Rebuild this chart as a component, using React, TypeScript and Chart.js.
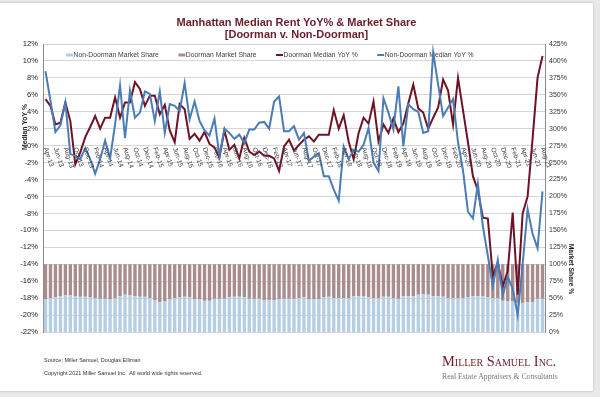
import React, { useEffect, useRef } from "react";
import { Chart, registerables } from "chart.js";

Chart.register(...registerables);

const categories = [
  "Apr-13", "May-13", "Jun-13", "Jul-13", "Aug-13", "Sep-13", "Oct-13", "Nov-13", "Dec-13",
  "Jan-14", "Feb-14", "Mar-14", "Apr-14", "May-14", "Jun-14", "Jul-14", "Aug-14", "Sep-14", "Oct-14", "Nov-14", "Dec-14",
  "Jan-15", "Feb-15", "Mar-15", "Apr-15", "May-15", "Jun-15", "Jul-15", "Aug-15", "Sep-15", "Oct-15", "Nov-15", "Dec-15",
  "Jan-16", "Feb-16", "Mar-16", "Apr-16", "May-16", "Jun-16", "Jul-16", "Aug-16", "Sep-16", "Oct-16", "Nov-16", "Dec-16",
  "Jan-17", "Feb-17", "Mar-17", "Apr-17", "May-17", "Jun-17", "Jul-17", "Aug-17", "Sep-17", "Oct-17", "Nov-17", "Dec-17",
  "Jan-18", "Feb-18", "Mar-18", "Apr-18", "May-18", "Jun-18", "Jul-18", "Aug-18", "Sep-18", "Oct-18", "Nov-18", "Dec-18",
  "Jan-19", "Feb-19", "Mar-19", "Apr-19", "May-19", "Jun-19", "Jul-19", "Aug-19", "Sep-19", "Oct-19", "Nov-19", "Dec-19",
  "Jan-20", "Feb-20", "Mar-20", "Apr-20", "May-20", "Jun-20", "Jul-20", "Aug-20", "Sep-20", "Oct-20", "Nov-20", "Dec-20",
  "Jan-21", "Feb-21", "Mar-21", "Apr-21", "May-21", "Jun-21", "Jul-21", "Aug-21",
];

const doormanYoY = [
  5.5, 4.7, 2.5, 2.7, 5.1, 2.9, -2.2, -0.8, 1.0, 2.2,
  3.5, 2.0, 3.3, 3.3, 5.7, 3.3, 5.1, 5.1, 7.5, 6.7,
  4.7, 5.9, 5.9, 3.7, 4.8, 1.8, 0.4, 4.9, 4.3, 0.8,
  1.4, 0.6, 1.6, 0.2, -0.2, -1.4, 1.8, -0.5, 0.1, -1.5,
  0.9, -0.7, -1.1, -0.7, -1.2, -1.2, -1.5, -3.0, -0.1, 0.7,
  -0.6, 0.1, 0.7, 1.1, 0.5, 1.3, 1.3, 1.3, 4.2, 2.0,
  3.6, 0.5, -1.6, 1.5, 3.3, 2.6, 5.2, 0.5, 2.5, 1.5,
  3.2, 1.6, 2.6, 5.0, 7.2, 4.4, 3.9, 2.0, 3.3, 4.5,
  7.8, 6.5, 2.5, 8.0, 4.2, 0.4, -3.6, -5.3, -8.5, -8.6,
  -15.4, -13.8, -16.6, -14.8, -7.9, -17.6, -8.0, -6.0, 0.8, 8.0,
  10.6,
];

const nonDoormanYoY = [
  8.8, 5.3, 1.6, 2.4, 5.1, -1.0, -1.2, -1.6, -0.3, -1.6,
  -3.3, -1.6, 0.6, -1.5, 2.5, 7.1, 0.9, 6.5, 3.3, 3.9,
  6.4, 6.1, 2.9, 6.4, 1.5, 4.9, 4.7, 4.1, 7.4, 3.1,
  5.2, 2.9, 1.8, 1.2, 3.2, -1.2, 2.0, 1.5, 0.8, 1.3,
  0.3, 1.9, 1.9, 2.7, 2.8, 2.0, 5.2, 5.8, 1.7, 1.7,
  2.3, 0.7, 1.5, -1.8, -1.3, -0.9, -3.6, -3.6, -5.2, -6.5,
  -0.1, -1.6, -0.5, -0.7, 0.1, 2.1, -2.0, -3.0, 5.6, 3.9,
  1.9, 7.0, -0.1, 4.9, 4.3, 4.0, 1.5, 1.7, 11.0, 7.2,
  3.5, 4.5, 5.5, 0.4, -2.9, -7.8, -8.6, -4.5, -9.5, -13.0,
  -16.6, -13.5, -17.7, -15.5, -16.9, -20.0, -14.0, -7.5, -10.4, -12.1,
  -5.4,
];

const nonDoormanShare = [
  48, 50, 51, 53, 54, 54, 53, 52, 52, 51,
  50, 49, 49, 48, 50, 53, 55, 54, 53, 52,
  52, 50, 47, 44, 45, 48, 50, 51, 52, 51,
  48, 48, 46, 46, 49, 49, 49, 51, 52, 52,
  51, 49, 49, 49, 47, 47, 47, 48, 49, 49,
  49, 50, 51, 48, 48, 48, 51, 52, 50, 50,
  50, 50, 53, 53, 53, 51, 50, 50, 52, 52,
  50, 49, 53, 53, 53, 55, 56, 55, 53, 53,
  52, 50, 50, 50, 50, 51, 53, 53, 53, 51,
  50, 50, 46, 45, 45, 43, 43, 44, 44, 49,
  49,
];

const doormanShare = [
  52, 50, 49, 47, 46, 46, 47, 48, 48, 49,
  50, 51, 51, 52, 50, 47, 45, 46, 47, 48,
  48, 50, 53, 56, 55, 52, 50, 49, 48, 49,
  52, 52, 54, 54, 51, 51, 51, 49, 48, 48,
  49, 51, 51, 51, 53, 53, 53, 52, 51, 51,
  51, 50, 49, 52, 52, 52, 49, 48, 50, 50,
  50, 50, 47, 47, 47, 49, 50, 50, 48, 48,
  50, 51, 47, 47, 47, 45, 44, 45, 47, 47,
  48, 50, 50, 50, 50, 49, 47, 47, 47, 49,
  50, 50, 54, 55, 55, 57, 57, 56, 56, 51,
  51,
];

const legendLabels = [
  "Non-Doorman Market Share",
  "Doorman Market Share",
  "Doorman Median YoY %",
  "Non-Doorman Median YoY %",
];

const RED = "#6e1226";
const BLUE = "#4a7db5";
const SHARE_BLUE = "#b6cee3";
const SHARE_MAUVE = "#a88c8e";
const TITLE_COLOR = "#6b1b2b";
const FONT = "'Liberation Sans', Arial, sans-serif";
const SERIF = "'Liberation Serif', 'Times New Roman', serif";

export default function App() {
  const ref = useRef<HTMLCanvasElement>(null);

  useEffect(() => {
    const canvas = ref.current;
    if (!canvas) return;
    Chart.defaults.font.family = FONT;

    const overlay = {
      id: "overlay",
      beforeDatasetsDraw(chart: any) {
        const ctx = chart.ctx;
        const colors = [SHARE_BLUE, SHARE_MAUVE, RED, BLUE];
        const widths = [3, 3, 2, 2];
        ctx.save();
        ctx.font = `6.8px ${FONT}`;
        ctx.textBaseline = "middle";
        ctx.textAlign = "left";
        let x = 66;
        const y = 55;
        legendLabels.forEach((lab, i) => {
          ctx.strokeStyle = colors[i];
          ctx.lineWidth = widths[i];
          ctx.beginPath();
          ctx.moveTo(x, y);
          ctx.lineTo(x + 7, y);
          ctx.stroke();
          ctx.fillStyle = "#404040";
          ctx.fillText(lab, x + 7.5, y);
          x += 7.5 + ctx.measureText(lab).width + 19.5;
        });
        ctx.restore();
      },
      afterDraw(chart: any) {
        const ctx = chart.ctx;
        const xs = chart.scales.x;
        const ys = chart.scales.y;
        const y0 = ys.getPixelForValue(0);
        ctx.save();
        ctx.font = `6.6px ${FONT}`;
        ctx.fillStyle = "#404040";
        ctx.textAlign = "left";
        ctx.textBaseline = "middle";
        for (let i = 0; i < categories.length; i += 2) {
          const x = xs.getPixelForValue(i);
          ctx.save();
          ctx.translate(x, y0 + 2);
          ctx.rotate((72 * Math.PI) / 180);
          ctx.fillText(categories[i], 0, 0);
          ctx.restore();
        }
        ctx.font = `bold 6.8px ${FONT}`;
        ctx.fillStyle = "#222";
        ctx.textAlign = "center";
        ctx.save();
        ctx.translate(25, 127);
        ctx.rotate(-Math.PI / 2);
        ctx.fillText("Median YoY %", 0, 0);
        ctx.restore();
        ctx.save();
        ctx.translate(571, 269);
        ctx.rotate(Math.PI / 2);
        ctx.fillText("Market Share %", 0, 0);
        ctx.restore();
        ctx.restore();
      },
    };

    const chart = new Chart(canvas, {
      type: "bar",
      data: {
        labels: categories,
        datasets: [
          {
            type: "line",
            label: legendLabels[3],
            data: nonDoormanYoY,
            borderColor: BLUE,
            borderWidth: 2,
            pointRadius: 0,
            tension: 0,
            yAxisID: "y",
            order: 0,
          },
          {
            type: "line",
            label: legendLabels[2],
            data: doormanYoY,
            borderColor: RED,
            borderWidth: 2,
            pointRadius: 0,
            tension: 0,
            yAxisID: "y",
            order: 1,
          },
          {
            type: "bar",
            label: legendLabels[0],
            data: nonDoormanShare,
            backgroundColor: SHARE_BLUE,
            yAxisID: "y1",
            stack: "share",
            order: 2,
            barPercentage: 0.68,
            categoryPercentage: 1,
          },
          {
            type: "bar",
            label: legendLabels[1],
            data: doormanShare,
            backgroundColor: SHARE_MAUVE,
            yAxisID: "y1",
            stack: "share",
            order: 2,
            barPercentage: 0.68,
            categoryPercentage: 1,
          },
        ],
      } as any,
      options: {
        responsive: false,
        animation: false,
        layout: { padding: { left: 0, right: 0, top: 44, bottom: 65 } },
        plugins: {
          legend: { display: false },
          tooltip: { enabled: false },
          title: { display: false },
        },
        scales: {
          x: { display: false, stacked: true, offset: true },
          y: {
            position: "left",
            min: -22,
            max: 12,
            ticks: {
              stepSize: 2,
              callback: (v: any) => `${v}%`,
              font: { size: 7.6, family: FONT },
              color: "#222",
              padding: 5,
            },
            grid: { color: "#d6d6d6", drawTicks: false, lineWidth: 1 },
            border: { display: true, color: "#8a8a8a" },
            afterFit: (s: any) => {
              s.width = 43;
            },
          },
          y1: {
            position: "right",
            stacked: true,
            min: 0,
            max: 425,
            ticks: {
              stepSize: 25,
              callback: (v: any) => `${v}%`,
              font: { size: 7, family: FONT },
              color: "#333",
              padding: 4,
            },
            grid: { display: false, drawTicks: false },
            border: { display: true, color: "#8a8a8a" },
            afterFit: (s: any) => {
              s.width = 55;
            },
          },
        },
      } as any,
      plugins: [overlay],
    });
    return () => chart.destroy();
  }, []);

  return (
    <div
      style={{
        position: "fixed",
        left: 0,
        top: 0,
        width: 600,
        height: 397,
        background: "#e8e8e8",
        overflow: "hidden",
      }}
    >
      <div
        style={{
          position: "absolute",
          left: 0,
          top: 3,
          width: 593,
          height: 388,
          background: "#ffffff",
          boxShadow: "0 0 2px rgba(0,0,0,0.25)",
        }}
      />
      <canvas
        ref={ref}
        width={600}
        height={397}
        style={{ position: "absolute", left: 0, top: 0, width: 600, height: 397 }}
      />
      <div
        style={{
          position: "absolute",
          left: 0,
          top: 17,
          width: 593,
          textAlign: "center",
          font: `bold 11px ${FONT}`,
          lineHeight: "11.5px",
          color: TITLE_COLOR,
        }}
      >
        <div>Manhattan Median Rent YoY% &amp; Market Share</div>
        <div>[Doorman v. Non-Doorman]</div>
      </div>
      <div
        style={{
          position: "absolute",
          left: 44,
          top: 354,
          font: `5.5px ${FONT}`,
          lineHeight: "12.5px",
          color: "#333",
          whiteSpace: "pre",
        }}
      >
        <div>Source: Miller Samuel, Douglas Elliman</div>
        <div>Copyright 2021 Miller Samuel Inc.  All world wide rights reserved.</div>
      </div>
      <div
        style={{
          position: "absolute",
          left: 442,
          top: 353,
          whiteSpace: "nowrap",
        }}
      >
        <div
          style={{
            font: `14.4px ${SERIF}`,
            fontVariant: "small-caps",
            color: "#6b1a24",
            lineHeight: "17px",
          }}
        >
          Miller Samuel Inc.
        </div>
        <div
          style={{
            font: `7.7px ${SERIF}`,
            color: "#777",
            lineHeight: "10px",
            marginTop: 2,
          }}
        >
          Real Estate Appraisers &amp; Consultants
        </div>
      </div>
    </div>
  );
}
